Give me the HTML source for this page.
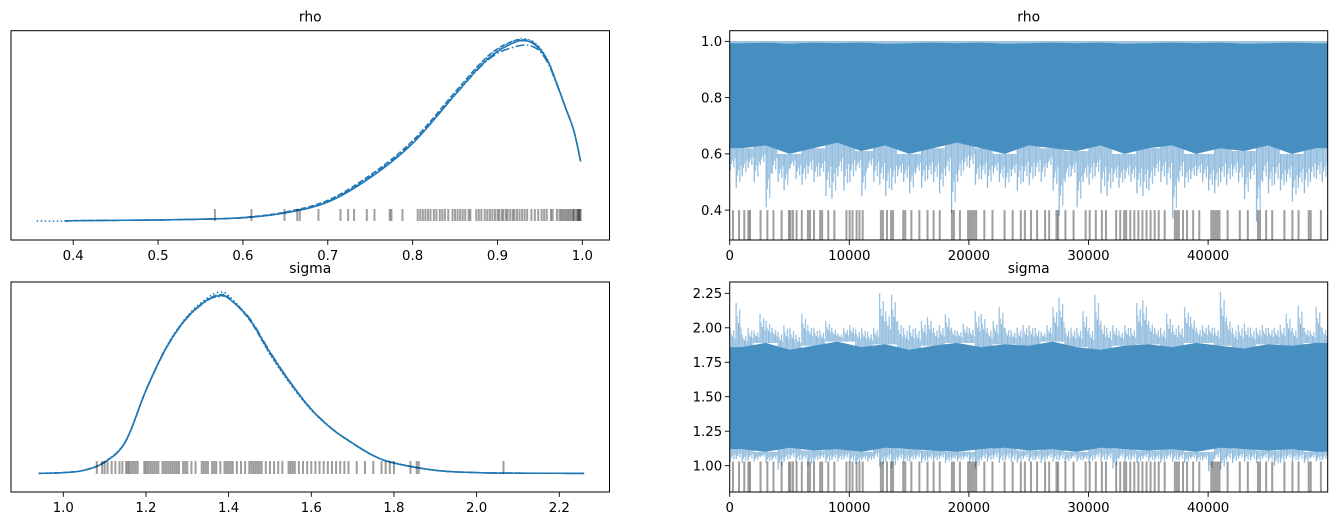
<!DOCTYPE html>
<html><head><meta charset="utf-8"><style>
html,body{margin:0;padding:0;background:#fff;}
svg{display:block;font-family:"DejaVu Sans","Liberation Sans",sans-serif;}
</style></head><body>
<svg id="fig" width="1337" height="526" viewBox="0 0 1337 526" xmlns="http://www.w3.org/2000/svg">
<rect width="1337" height="526" fill="#fff"/>
</svg>
<script>
// ---- data ----
const rhoGrid=[0.357,0.39,0.40,0.45,0.5,0.55,0.6,0.65,0.7,0.75,0.8,0.85,0.88,0.9,0.92,0.93,0.94,0.95,0.96,0.97,0.98,0.99,0.998];
const rhoChainA=[0,0,0.002,0.004,0.006,0.01,0.018,0.045,0.105,0.24,0.43,0.70,0.86,0.94,0.99,1.0,0.99,0.95,0.88,0.76,0.63,0.5,0.33];
const rhoChainB=[0,0,0.002,0.004,0.006,0.01,0.019,0.047,0.11,0.25,0.44,0.71,0.87,0.95,1.0,1.01,1.0,0.96,0.885,0.765,0.635,0.5,0.33];
const rhoChainC=[0,0,0.002,0.004,0.006,0.011,0.02,0.05,0.115,0.255,0.445,0.715,0.875,0.955,1.0,1.005,0.995,0.955,0.88,0.76,0.63,0.5,0.33];
const rhoChainD=[0,0,0.002,0.004,0.006,0.01,0.018,0.046,0.108,0.245,0.435,0.7,0.855,0.93,0.965,0.975,0.97,0.94,0.87,0.755,0.63,0.5,0.33];
const sigmaGrid=[0.94,1.0,1.05,1.1,1.15,1.2,1.25,1.3,1.35,1.38,1.4,1.45,1.5,1.55,1.6,1.65,1.7,1.75,1.8,1.9,2.0,2.1,2.26];
const sigmaChainA=[0,0.004,0.017,0.063,0.176,0.466,0.71,0.878,0.978,1.0,0.985,0.87,0.68,0.51,0.36,0.25,0.17,0.10,0.058,0.017,0.004,0.001,0];
const sigmaChainB=[0,0.004,0.017,0.064,0.18,0.47,0.715,0.885,0.99,1.02,1.0,0.87,0.67,0.5,0.355,0.25,0.17,0.10,0.06,0.018,0.004,0.001,0];
const sigmaChainC=[0,0.004,0.018,0.065,0.178,0.468,0.712,0.88,0.98,1.005,0.99,0.865,0.675,0.505,0.36,0.25,0.168,0.10,0.058,0.017,0.004,0.001,0];
const sigmaChainD=[0,0.004,0.017,0.062,0.175,0.465,0.708,0.875,0.975,0.995,0.985,0.875,0.685,0.51,0.362,0.252,0.17,0.10,0.058,0.017,0.004,0.001,0];
const rhoRug=[0.567,0.61,0.649,0.664,0.667,0.689,0.715,0.724,0.731,0.746,0.755,0.773,0.775,0.788,0.806,0.809,0.812,0.815,0.818,0.821,0.825,0.828,0.832,0.835,0.838,0.842,0.847,0.85,0.853,0.856,0.859,0.862,0.866,0.868,0.875,0.878,0.881,0.885,0.888,0.891,0.894,0.897,0.9,0.902,0.905,0.907,0.91,0.912,0.915,0.918,0.92,0.923,0.926,0.929,0.932,0.935,0.94,0.944,0.948,0.952,0.955,0.958,0.963,0.965,0.97,0.973,0.975,0.977,0.979,0.981,0.983,0.985,0.987,0.989,0.99,0.992,0.994,0.995,0.996,0.997,0.998];
const sigmaRug=[1.081,1.094,1.1,1.107,1.117,1.126,1.136,1.143,1.152,1.156,1.16,1.165,1.17,1.175,1.18,1.196,1.2,1.205,1.21,1.215,1.22,1.225,1.23,1.24,1.245,1.25,1.255,1.26,1.265,1.27,1.275,1.28,1.29,1.295,1.3,1.31,1.32,1.335,1.34,1.345,1.35,1.36,1.365,1.37,1.38,1.39,1.395,1.4,1.405,1.41,1.42,1.43,1.44,1.45,1.455,1.46,1.465,1.47,1.475,1.48,1.49,1.5,1.51,1.52,1.53,1.545,1.55,1.555,1.56,1.57,1.58,1.59,1.6,1.61,1.62,1.63,1.64,1.65,1.66,1.67,1.68,1.69,1.71,1.73,1.75,1.77,1.78,1.79,1.8,1.84,1.855,1.86,2.065];
const divergenceIters=[270,780,1220,1560,1700,2580,3150,3660,4340,4950,5090,5290,5590,6030,6540,6710,7050,7560,7730,8240,8750,9760,10030,10270,10610,10850,11120,12640,12810,13150,13490,13660,14510,14680,15190,15860,16540,17050,17560,18580,18750,19250,19930,20100,20270,20440,20610,21290,21970,22980,23660,24340,24680,25190,25700,26370,26710,27320,27460,28070,28750,29760,30100,30610,31120,31460,32310,32650,32980,33150,33490,33830,34170,34510,34850,35190,35530,35870,36370,37220,37390,37560,37900,38240,38750,39260,40270,40440,40610,40780,40950,41630,42650,43320,44170,44340,44850,45360,46380,47050,47560,48410,48580,49430];
const rhoTraceMin=[0.54,0.48,0.52,0.55,0.50,0.56,0.41,0.53,0.50,0.47,0.55,0.51,0.49,0.53,0.50,0.52,0.45,0.44,0.52,0.47,0.50,0.54,0.45,0.55,0.50,0.49,0.45,0.47,0.52,0.50,0.46,0.53,0.48,0.51,0.50,0.46,0.52,0.39,0.50,0.54,0.55,0.49,0.51,0.48,0.53,0.50,0.48,0.52,0.47,0.50,0.49,0.52,0.50,0.55,0.47,0.38,0.50,0.52,0.41,0.50,0.49,0.52,0.46,0.45,0.50,0.48,0.51,0.50,0.46,0.45,0.47,0.52,0.50,0.49,0.37,0.50,0.48,0.51,0.52,0.50,0.47,0.46,0.50,0.49,0.52,0.50,0.44,0.51,0.36,0.50,0.46,0.49,0.47,0.50,0.43,0.48,0.46,0.50,0.51,0.50];
const rhoCoreLo=[0.62,0.63,0.6,0.62,0.64,0.61,0.63,0.6,0.62,0.64,0.62,0.6,0.63,0.62,0.61,0.63,0.6,0.62,0.63,0.6,0.62,0.61,0.63,0.6,0.62];
const rhoCoreHi=[0.994,0.995,0.993,0.995,0.994,0.995,0.993,0.994,0.995,0.994,0.995,0.993,0.994,0.995,0.994,0.995,0.993,0.994,0.995,0.994,0.995,0.993,0.994,0.995,0.994];
const sigmaTraceMax=[2.0,2.18,1.95,2.0,1.98,2.1,2.05,2.0,1.97,2.02,2.0,1.95,2.1,2.02,2.0,1.98,2.05,2.0,1.96,2.0,2.02,1.99,2.0,1.97,2.0,2.25,2.12,2.24,2.05,2.0,2.02,2.0,2.05,2.08,2.0,2.02,2.1,2.0,1.98,2.03,2.0,2.12,2.1,2.0,2.05,2.15,2.0,1.98,2.0,2.02,2.02,2.0,1.97,2.02,2.15,2.22,2.0,2.0,2.0,2.12,2.0,2.24,2.05,2.0,2.02,1.98,2.02,2.0,2.18,2.2,2.05,2.0,2.0,2.1,2.02,2.02,2.15,2.08,2.0,2.02,2.02,2.0,2.26,2.08,2.0,2.02,2.03,2.0,2.0,2.02,2.0,2.0,2.02,2.1,2.0,2.16,2.0,1.98,2.15,2.0];
const sigmaTraceMin=[1.03,1.05,1.02,1.04,1.03,1.06,1.02,1.04,0.97,1.03,1.05,1.02,1.04,1.0,1.03,1.05,1.02,1.04,1.03,1.05,1.02,1.01,1.04,1.03,1.05,0.99,1.03,0.98,1.04,1.02,1.03,1.05,1.02,1.04,1.03,1.05,1.02,1.04,1.03,1.05,1.02,0.98,1.04,1.03,1.05,1.02,1.04,1.03,1.02,1.05,1.03,1.04,1.02,1.05,1.03,1.04,1.02,1.05,1.03,1.04,1.02,1.05,1.03,1.04,0.98,1.05,1.03,1.04,1.02,1.05,1.03,1.04,1.02,1.05,1.03,1.04,1.02,1.05,1.03,1.04,0.96,1.05,0.97,1.04,1.02,1.05,1.03,1.04,1.02,1.05,1.03,1.0,1.02,1.05,1.03,1.04,1.02,1.05,1.03,1.04];
const sigmaCoreLo=[1.12,1.1,1.13,1.11,1.12,1.1,1.13,1.12,1.11,1.1,1.12,1.13,1.11,1.12,1.1,1.13,1.12,1.11,1.12,1.1,1.13,1.12,1.11,1.12,1.1];
const sigmaCoreHi=[1.86,1.89,1.84,1.87,1.9,1.86,1.88,1.84,1.87,1.89,1.86,1.88,1.87,1.9,1.86,1.84,1.87,1.88,1.86,1.89,1.87,1.85,1.88,1.87,1.89];
const rhoKdeTicks=[0.4,0.5,0.6,0.7,0.8,0.9,1.0];
const sigmaKdeTicks=[1.0,1.2,1.4,1.6,1.8,2.0,2.2];
const iterTicks=[0,10000,20000,30000,40000];
const rhoTraceTicks=[0.4,0.6,0.8,1.0];
const sigmaTraceTicks=[1.0,1.25,1.5,1.75,2.0,2.25];

// ---- drawing ----
const NS='http://www.w3.org/2000/svg';
const svg=document.getElementById('fig');
function el(tag,attrs,parent){const e=document.createElementNS(NS,tag);for(const k in attrs)e.setAttribute(k,attrs[k]);(parent||svg).appendChild(e);return e;}
function scale(d0,d1,r0,r1){return v=>r0+(v-d0)/(d1-d0)*(r1-r0);}
function smoothPath(pts){let d='M'+pts[0][0]+','+pts[0][1];for(let i=0;i<pts.length-1;i++){const p0=pts[Math.max(0,i-1)],p1=pts[i],p2=pts[i+1],p3=pts[Math.min(pts.length-1,i+2)];const c1=[p1[0]+(p2[0]-p0[0])/6,p1[1]+(p2[1]-p0[1])/6],c2=[p2[0]-(p3[0]-p1[0])/6,p2[1]-(p3[1]-p1[1])/6];d+=' C'+c1[0].toFixed(2)+','+c1[1].toFixed(2)+' '+c2[0].toFixed(2)+','+c2[1].toFixed(2)+' '+p2[0].toFixed(2)+','+p2[1].toFixed(2);}return d;}
let clipN=0;
function makeAxes(name,x0,y0,x1,y1,xd,yd){
  const g=el('g',{});
  
  
  const id='clip'+(clipN++);
  const cp=el('clipPath',{id:id},g);el('rect',{x:x0,y:y0,width:x1-x0,height:y1-y0},cp);
  const plot=el('g',{'clip-path':'url(#'+id+')'},g);
  return {g,plot,x:scale(xd[0],xd[1],x0,x1),y:scale(yd[0],yd[1],y1,y0),x0,y0,x1,y1};
}
function frame(ax){const r=el('rect',{x:ax.x0,y:ax.y0,width:ax.x1-ax.x0,height:ax.y1-ax.y0,fill:'none',stroke:'#000','stroke-width':1},ax.g);}
function xticks(ax,ticks,fmt){ticks.forEach(t=>{const X=ax.x(t);el('line',{x1:X,x2:X,y1:ax.y1,y2:ax.y1+4.9,stroke:'#000','stroke-width':0.9},ax.g);const tx=el('text',{x:X,y:ax.y1+20,'text-anchor':'middle','font-size':'13.3px',fill:'#000'},ax.g);tx.textContent=fmt(t);});}
function yticks(ax,ticks,fmt){ticks.forEach(t=>{const Y=ax.y(t);el('line',{x1:ax.x0-4.9,x2:ax.x0,y1:Y,y2:Y,stroke:'#000','stroke-width':0.9},ax.g);const tx=el('text',{x:ax.x0-7.5,y:Y+4.8,'text-anchor':'end','font-size':'13.3px',fill:'#000'},ax.g);tx.textContent=fmt(t);});}
function title(ax,txt){const t=el('text',{x:(ax.x0+ax.x1)/2,y:ax.y0-9,'text-anchor':'middle','font-size':'13.9px',fill:'#000'},ax.g);t.textContent=txt;}
const dashes=['', '1.5,2.5', '5.5,2.4', '9,2.5,1.5,2.5'];
function kde(ax,grid,chains,startIdx){chains.forEach((c,i)=>{const pts=[];for(let k=startIdx[i];k<grid.length;k++)pts.push([ax.x(grid[k]),ax.y(c[k])]);const p=el('path',{d:smoothPath(pts),fill:'none',stroke:'#1f77b4','stroke-width':1.5,'stroke-dasharray':dashes[i]},ax.plot);});}
function rug(ax,vals,yTop,yBot){vals.forEach(v=>{const X=ax.x(v);const l=el('line',{x1:X,x2:X,y1:yTop,y2:yBot,stroke:'#000','stroke-opacity':0.38,'stroke-width':2},ax.plot);});}
function spikeLine(ax,X,v0,v1,col){const l=el('line',{x1:X,x2:X,y1:ax.y(v0),y2:ax.y(v1),stroke:col,'stroke-width':1.3},ax.plot);}
function trace(ax,mins,maxs,coreLo,coreHi,maxConst){
  const n=(mins||maxs).length,bw=49999/n;
  const m=coreLo.length,cw=49999/m;
  const fr=[[0.1,1.0,'#8dbadd'],[0.3,0.7,'#9cc3e1'],[0.5,0.55,'#a8cae5'],[0.7,0.85,'#9cc3e1'],[0.88,0.45,'#a8cae5']];
  for(let i=0;i<n;i++){
    const ci=Math.min(m-1,Math.floor(i*bw/cw));
    const xa=ax.x(i*bw),w=ax.x((i+1)*bw)-xa;
    if(mins){const lo=mins[i],c=coreLo[ci];fr.forEach((s,k)=>spikeLine(ax,xa+w*s[0],c,c-(c-lo)*s[1],s[2]));}
    if(maxs){const hi=maxs[i],c=coreHi[ci];fr.forEach((s,k)=>spikeLine(ax,xa+w*((s[0]+0.37)%1),c,c+(hi-c)*fr[(k+2)%5][1],s[2]));}
    else {const l=el('line',{x1:xa,x2:xa+w,y1:ax.y(maxConst),y2:ax.y(maxConst),stroke:'#7fb0d6','stroke-width':1.5},ax.plot);}
  }
  let d='M'+ax.x(0)+','+ax.y(coreHi[0]);
  for(let i=0;i<m;i++)d+=' L'+ax.x((i+0.5)*cw).toFixed(1)+','+ax.y(coreHi[i]).toFixed(1);
  d+=' L'+ax.x(49999)+','+ax.y(coreHi[m-1])+' L'+ax.x(49999)+','+ax.y(coreLo[m-1]);
  for(let i=m-1;i>=0;i--)d+=' L'+ax.x((i+0.5)*cw).toFixed(1)+','+ax.y(coreLo[i]).toFixed(1);
  d+=' L'+ax.x(0)+','+ax.y(coreLo[0])+'Z';
  const c=el('path',{d:d,fill:'#488fc1'},ax.plot);
}

// rho KDE
const a1=makeAxes('rho-kde-axes',11,30.7,609.5,240,[0.3267,1.032],[-0.105,1.055]);
kde(a1,rhoGrid,[rhoChainA,rhoChainB,rhoChainC,rhoChainD],[1,0,1,1]);
rug(a1,rhoRug,209,221);
frame(a1);xticks(a1,rhoKdeTicks,t=>t.toFixed(1));title(a1,'rho');

// rho trace
const a2=makeAxes('rho-trace-axes',729.7,30.7,1327.7,240,[0,49999],[0.2937,1.038]);
trace(a2,rhoTraceMin,null,rhoCoreLo,rhoCoreHi,0.998);
divergenceIters.forEach(it=>{const X=a2.x(it);const l=el('line',{x1:X,x2:X,y1:a2.y(0.4),y2:240,stroke:'#000','stroke-opacity':0.38,'stroke-width':2},a2.plot);});
frame(a2);xticks(a2,iterTicks,t=>String(t));yticks(a2,rhoTraceTicks,t=>t.toFixed(1));title(a2,'rho');

// sigma KDE
const a3=makeAxes('sigma-kde-axes',11,282,609.5,492,[0.8735,2.3215],[-0.105,1.077]);
kde(a3,sigmaGrid,[sigmaChainA,sigmaChainB,sigmaChainC,sigmaChainD],[0,0,0,0]);
rug(a3,sigmaRug,461,474);
frame(a3);xticks(a3,sigmaKdeTicks,t=>t.toFixed(1));title(a3,'sigma');

// sigma trace
const a4=makeAxes('sigma-trace-axes',729.7,282,1327.7,492,[0,49999],[0.809,2.332]);
trace(a4,sigmaTraceMin,sigmaTraceMax,sigmaCoreLo,sigmaCoreHi,null);
divergenceIters.forEach(it=>{const X=a4.x(it);const l=el('line',{x1:X,x2:X,y1:a4.y(1.03),y2:492,stroke:'#000','stroke-opacity':0.38,'stroke-width':2},a4.plot);});
frame(a4);xticks(a4,iterTicks,t=>String(t));yticks(a4,sigmaTraceTicks,t=>t.toFixed(2));title(a4,'sigma');
</script>
</body></html>
